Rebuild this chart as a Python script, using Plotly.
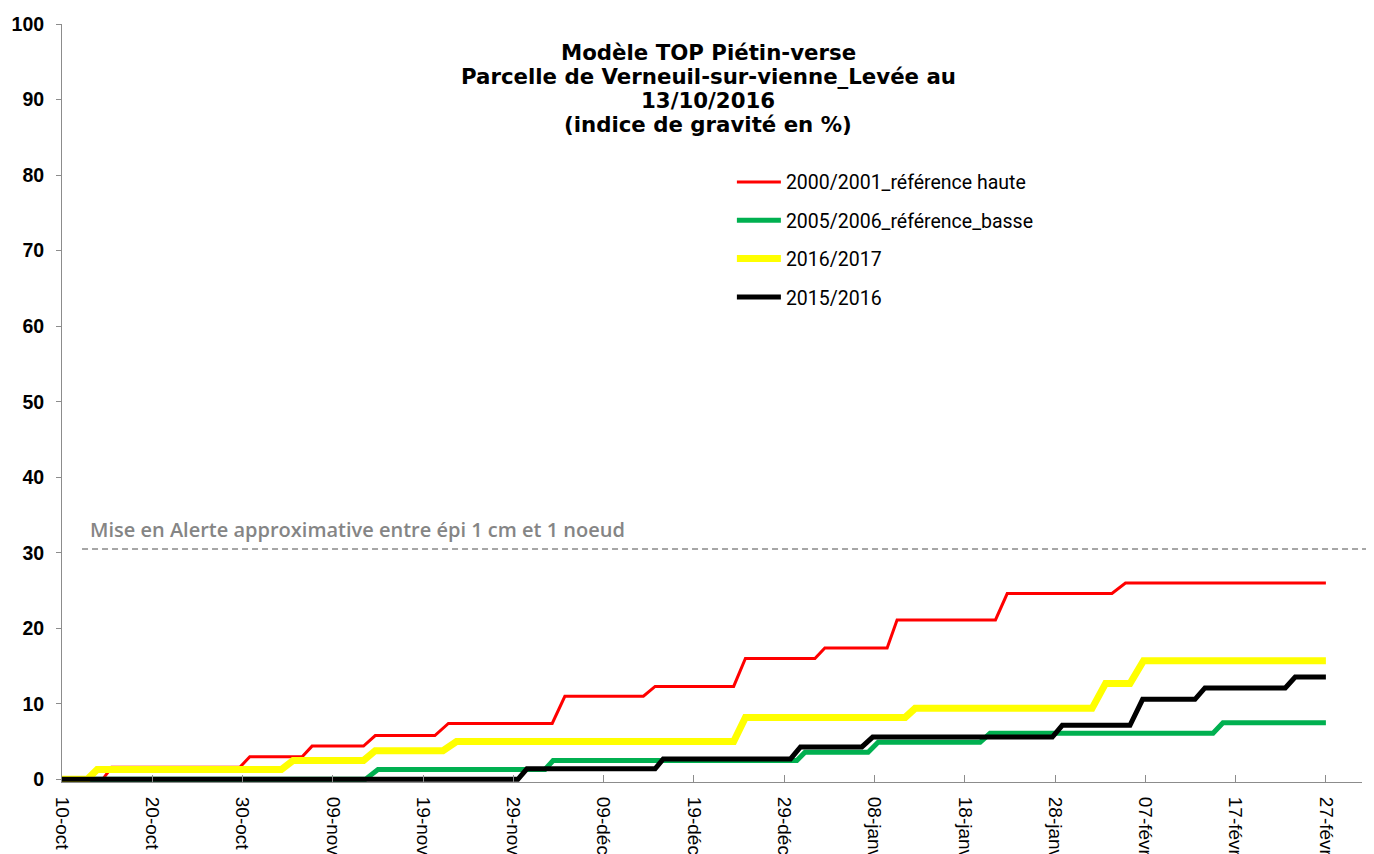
import plotly.graph_objects as go

# ---------------- data ----------------
# x = days since 10 October (start of the campaign); values = indice de gravité (%)
tick_days = [0, 10, 20, 30, 40, 50, 60, 70, 80, 90, 100, 110, 120, 130, 140]
tick_labels = ["10-oct", "20-oct", "30-oct", "09-nov", "19-nov", "29-nov", "09-déc",
               "19-déc", "29-déc", "08-janv", "18-janv", "28-janv", "07-févr",
               "17-févr", "27-févr"]

red_name = "2000/2001_référence haute"
red_days = [0, 4.5, 5.5, 19.7, 20.8, 26.6, 27.7, 33.4, 34.7, 41.3, 42.8, 54.3, 55.7,
            64.4, 65.7, 74.4, 75.7, 83.4, 84.5, 91.4, 92.5, 103.4, 104.7, 116.3, 117.8, 140]
red_vals = [0, 0, 1.6, 1.6, 3.0, 3.0, 4.4, 4.4, 5.8, 5.8, 7.4, 7.4, 11.0,
            11.0, 12.3, 12.3, 16.0, 16.0, 17.4, 17.4, 21.1, 21.1, 24.6, 24.6, 26.0, 26.0]

green_name = "2005/2006_référence_basse"
green_days = [0, 33.6, 35.0, 53.5, 54.4, 81.4, 82.3, 89.3, 90.4, 101.7, 102.8, 127.5, 128.6, 140]
green_vals = [0, 0, 1.3, 1.3, 2.5, 2.5, 3.6, 3.6, 4.9, 4.9, 6.1, 6.1, 7.5, 7.5]

yellow_name = "2016/2017"
yellow_days = [0, 2.8, 3.9, 24.3, 25.6, 33.4, 34.7, 42.2, 43.7, 74.4, 75.7, 93.4, 94.5,
               114.1, 115.6, 118.3, 119.8, 140]
yellow_vals = [0, 0, 1.3, 1.3, 2.5, 2.5, 3.8, 3.8, 5.0, 5.0, 8.2, 8.2, 9.4,
               9.4, 12.7, 12.7, 15.7, 15.7]

black_name = "2015/2016"
black_days = [0, 50.5, 51.5, 65.7, 66.6, 80.7, 81.8, 88.6, 89.8, 109.7, 110.8, 118.3, 119.7,
              125.5, 126.6, 135.5, 136.6, 140]
black_vals = [0, 0, 1.4, 1.4, 2.7, 2.7, 4.3, 4.3, 5.6, 5.6, 7.15, 7.15, 10.6,
              10.6, 12.1, 12.1, 13.55, 13.55]

alert_level = 30.5
alert_text = "Mise en Alerte approximative entre épi 1 cm et 1 noeud"
title_lines = ["Modèle TOP Piétin-verse", "Parcelle de Verneuil-sur-vienne_Levée au",
               "13/10/2016", "(indice de gravité en %)"]

y_ticks = [0, 10, 20, 30, 40, 50, 60, 70, 80, 90, 100]

# ---------------- figure ----------------
fig = go.Figure()
series = [
    (red_name, red_days, red_vals, "#ff0000", 3),
    (green_name, green_days, green_vals, "#00b050", 5),
    (yellow_name, yellow_days, yellow_vals, "#ffff00", 7),
    (black_name, black_days, black_vals, "#000000", 5),
]
for i, (name, xs, ys, color, w) in enumerate(series):
    fig.add_trace(go.Scatter(x=xs, y=ys, mode="lines", name=name,
                             legendgroup=f"g{i}",
                             line=dict(color=color, width=w)))

axis_col = "#8c8c8c"
fig.update_layout(
    width=1366, height=846,
    margin=dict(l=54, r=12, t=16, b=72, autoexpand=False),
    paper_bgcolor="white", plot_bgcolor="white",
    showlegend=True,
    legend=dict(x=0.5153, y=0.817, xanchor="left", yanchor="top",
                font=dict(family="Roboto, Arial, sans-serif", size=19.5, color="#000000"),
                tracegroupgap=10, itemwidth=44, bgcolor="rgba(0,0,0,0)"),
    xaxis=dict(range=[0, 144], showline=True, linecolor=axis_col, linewidth=1,
               ticks="inside", ticklen=7, tickcolor=axis_col, tickwidth=1,
               tickmode="array", tickvals=tick_days, ticktext=tick_labels,
               tickangle=90, ticklabelstandoff=10,
               tickfont=dict(family="Liberation Sans, Arial, sans-serif", size=19, color="#000000"),
               showgrid=False, zeroline=False, automargin=False),
    yaxis=dict(range=[-0.35, 100], showline=True, linecolor=axis_col, linewidth=1,
               ticks="outside", ticklen=5, tickcolor=axis_col, tickwidth=1,
               tickmode="array", tickvals=y_ticks, ticklabelstandoff=8,
               tickfont=dict(family="Liberation Sans, Arial, sans-serif", size=19.5,
                             color="#000000", weight="bold"),
               showgrid=False, zeroline=False, automargin=False),
)

# alert line
fig.add_shape(type="line", xref="paper", yref="y", x0=0.0154, x1=1.01,
              y0=alert_level, y1=alert_level,
              line=dict(color="#a6a6a6", width=2, dash="6px,4px"))
fig.add_annotation(text=alert_text, xref="x", yref="y", x=2.9, y=33.1,
                   xanchor="left", yanchor="middle", showarrow=False,
                   font=dict(family="Open Sans, Lato, sans-serif", size=20,
                             color="#858585", weight=600))

# title (one annotation per line, 24 px apart)
for k, line in enumerate(title_lines):
    fig.add_annotation(text=line, xref="paper", yref="paper",
                       x=0.497, y=0.962, xanchor="center", yanchor="middle",
                       yshift=-24 * k, showarrow=False,
                       font=dict(family="DejaVu Sans, Arial, sans-serif", size=21.3,
                                 color="#000000", weight="bold"))

fig.write_html("out.html")
